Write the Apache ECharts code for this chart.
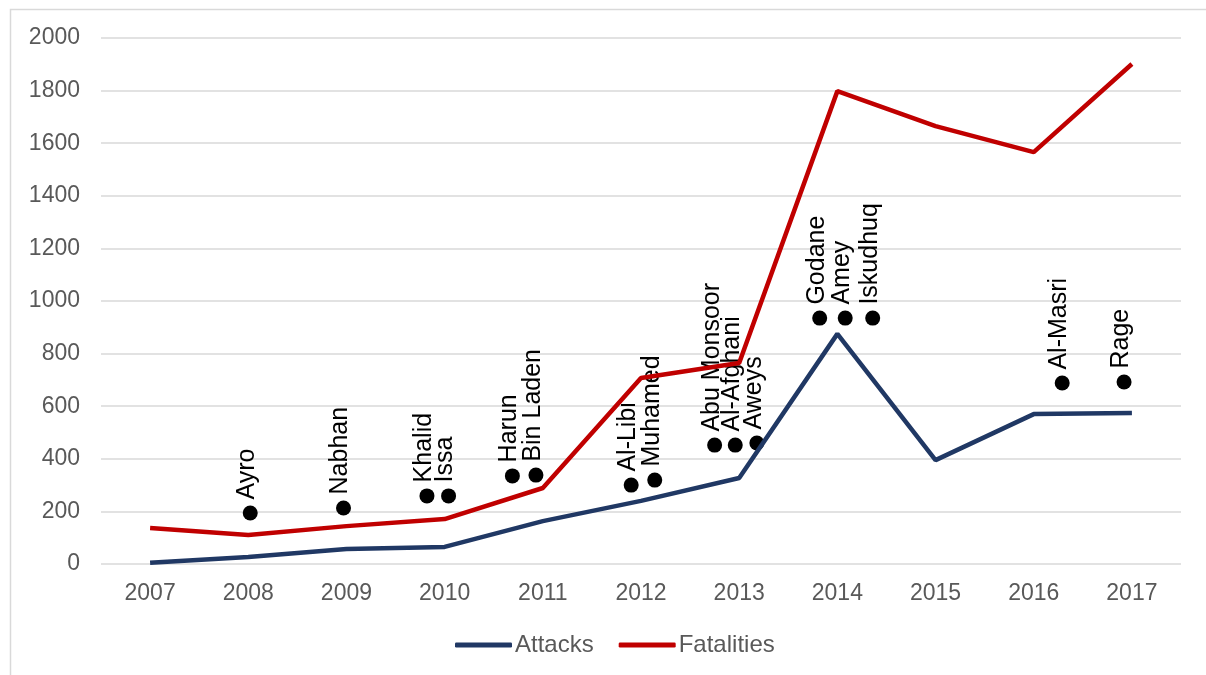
<!DOCTYPE html>
<html>
<head>
<meta charset="utf-8">
<script src="https://cdn.jsdelivr.net/npm/echarts@6/dist/echarts.min.js"></script>
<style>html,body{margin:0;padding:0;background:#fff}#c{width:1206px;height:675px}</style>
</head>
<body>
<div id="c"></div>
<script>
const years = ['2007','2008','2009','2010','2011','2012','2013','2014','2015','2016','2017'];
const attacks = [5, 27, 57, 65, 163, 240, 327, 875, 395, 570, 574];
const fatalities = [137, 110, 144, 171, 289, 707, 764, 1798, 1665, 1566, 1901];
const leaderNames = ['Ayro','Nabhan','Khalid','Issa','Harun','Bin Laden','Al-Libi','Muhamed','Abu Monsoor','Al-Afghani','Aweys','Godane','Amey','Iskudhuq','Al-Masri','Rage'];
const leaderX = [1.02, 1.97, 2.82, 3.04, 3.69, 3.93, 4.90, 5.14, 5.75, 5.96, 6.18, 6.82, 7.08, 7.36, 9.29, 9.92];
const leaderY = [194, 213, 259, 259, 335, 338, 300, 319, 452, 452, 460, 935, 935, 935, 688, 692];

const chart = echarts.init(document.getElementById('c'));
const font = 'Liberation Sans, Arial, sans-serif';
chart.setOption({
  animation: false,
  textStyle: {fontFamily: font},
  graphic: [{type:'rect', shape:{x:10.5,y:9.5,width:1300,height:800}, style:{fill:'none', stroke:'#d9d9d9', lineWidth:1.5}, silent:true}],
  grid: {left: 101, right: 25, top: 38, bottom: 111},
  legend: {
    top: 628, left: 450, itemWidth: 57, itemHeight: 5, itemGap: 25,
    icon: 'roundRect',
    data: ['Attacks','Fatalities'],
    textStyle: {fontSize: 24, color: '#595959', fontFamily: font, padding:[0,0,0,-2]}
  },
  xAxis: [
    {type: 'category', data: years, boundaryGap: true,
     axisLine: {show: false}, axisTick: {show: false},
     axisLabel: {fontSize: 23, color: '#595959', margin: 18, fontFamily: font}},
    {type: 'value', min: -0.5, max: 10.5, show: false}
  ],
  yAxis: {
    type: 'value', min: 0, max: 2000, interval: 200,
    axisLine: {show: false}, axisTick: {show: false},
    axisLabel: {fontSize: 23, color: '#595959', margin: 21, fontFamily: font, formatter: v => String(v)},
    splitLine: {lineStyle: {color: '#d9d9d9', width: 1.5}}
  },
  series: [
    {name: 'Attacks', type: 'line', data: attacks, symbol: 'none', xAxisIndex: 0,
     lineStyle: {color: '#203864', width: 4.5}, itemStyle: {color: '#203864'}},
    {name: 'Fatalities', type: 'line', data: fatalities, symbol: 'none', xAxisIndex: 0,
     lineStyle: {color: '#c00000', width: 4.5}, itemStyle: {color: '#c00000'}},
    {name: 'Leaders', type: 'scatter', xAxisIndex: 1, symbolSize: 15,
     itemStyle: {color: '#000', opacity: 1},
     data: leaderX.map((x, i) => ({value: [x, leaderY[i]], name: leaderNames[i]})),
     label: {show: true, formatter: p => p.name, position: 'top', distance: 6,
       rotate: 90, align: 'left', verticalAlign: 'middle', offset: [0, -3],
       fontSize: 25, color: '#000', fontFamily: font}
    }
  ]
});
</script>
</body>
</html>
